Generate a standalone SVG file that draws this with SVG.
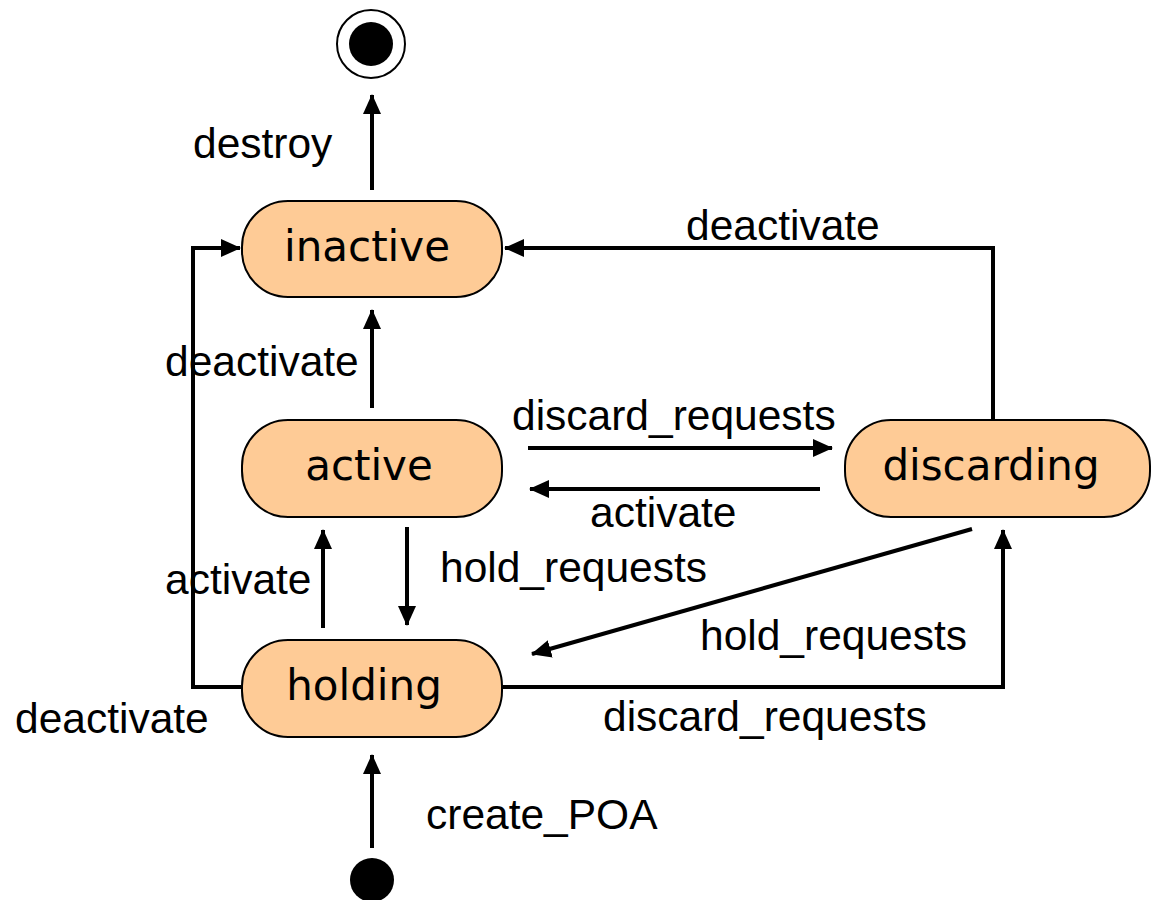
<svg xmlns="http://www.w3.org/2000/svg" width="1151" height="900" viewBox="0 0 1151 900">
<style>
.state{fill:#fecb96;stroke:#000;stroke-width:2}
.st{font-family:"DejaVu Sans",sans-serif;font-size:42px;text-anchor:middle;fill:#000}
.lbl{font-family:"Liberation Sans",Arial,sans-serif;font-size:42.5px;fill:#000}
.c{fill:none;stroke:#000;stroke-width:4}
</style>
<defs>
<marker id="arr" viewBox="0 0 20 18" refX="19" refY="9" markerWidth="20" markerHeight="18" markerUnits="userSpaceOnUse" orient="auto">
<path d="M0,0 L20,9 L0,18 z" fill="#000"/>
</marker>
</defs>
<rect width="1151" height="900" fill="#fff"/>
<g id="connectors">
<line class="c" x1="372" y1="190" x2="372" y2="95" marker-end="url(#arr)"/>
<line class="c" x1="372" y1="408" x2="372" y2="310" marker-end="url(#arr)"/>
<line class="c" x1="528" y1="448" x2="832" y2="448" marker-end="url(#arr)"/>
<line class="c" x1="820" y1="489" x2="530" y2="489" marker-end="url(#arr)"/>
<line class="c" x1="407" y1="527" x2="407" y2="625" marker-end="url(#arr)"/>
<line class="c" x1="323" y1="628" x2="323" y2="530" marker-end="url(#arr)"/>
<line class="c" x1="972" y1="529" x2="532" y2="654" marker-end="url(#arr)"/>
<polyline class="c" points="502,687 1003,687 1003,530" marker-end="url(#arr)"/>
<polyline class="c" points="242,687 193,687 193,248 240,248" marker-end="url(#arr)"/>
<polyline class="c" points="993,430 993,248 505,248" marker-end="url(#arr)"/>
<line class="c" x1="372" y1="848" x2="372" y2="755" marker-end="url(#arr)"/>
</g>
<g id="labels">
<text class="lbl" x="193" y="158">destroy</text>
<text class="lbl" x="165" y="376">deactivate</text>
<text class="lbl" x="512" y="430">discard_requests</text>
<text class="lbl" x="590" y="527">activate</text>
<text class="lbl" x="440" y="582">hold_requests</text>
<text class="lbl" x="165" y="594">activate</text>
<text class="lbl" x="700" y="650">hold_requests</text>
<text class="lbl" x="603" y="731">discard_requests</text>
<text class="lbl" x="15" y="733">deactivate</text>
<text class="lbl" x="686" y="240">deactivate</text>
<text class="lbl" x="426" y="829">create_POA</text>
</g>
<g id="final">
<circle cx="371" cy="44" r="34" fill="#fff" stroke="#000" stroke-width="2"/>
<circle cx="371" cy="44" r="22" fill="#000"/>
</g>
<g id="initial">
<circle cx="372" cy="880" r="22" fill="#000"/>
</g>
<g id="inactive">
<rect class="state" x="242" y="201" width="260" height="96" rx="46" ry="46"/>
<text class="st" x="367" y="261">inactive</text>
</g>
<g id="active">
<rect class="state" x="242" y="420" width="260" height="97" rx="46" ry="46"/>
<text class="st" x="369" y="480">active</text>
</g>
<g id="holding">
<rect class="state" x="242" y="640" width="260" height="97" rx="46" ry="46"/>
<text class="st" x="364" y="700">holding</text>
</g>
<g id="discarding">
<rect class="state" x="845" y="420" width="305" height="97" rx="46" ry="46"/>
<text class="st" x="991" y="480">discarding</text>
</g>
</svg>
